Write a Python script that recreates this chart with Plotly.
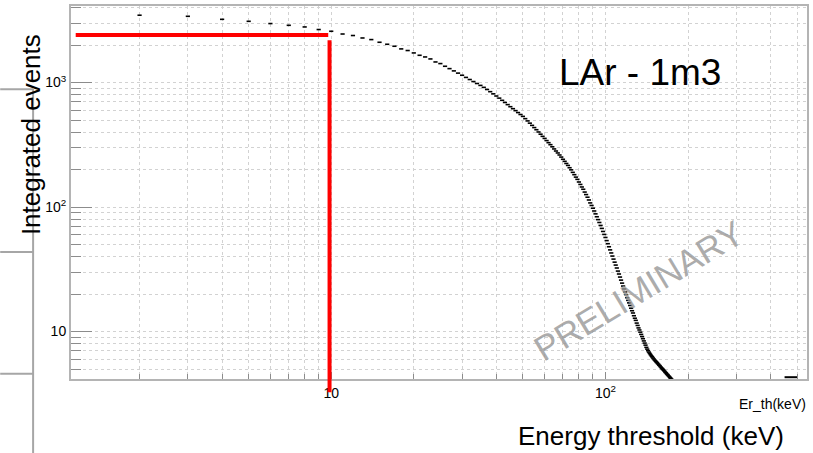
import math
import plotly.graph_objects as go

# ---------------- data ----------------
energy_keV = list(range(2, 176))
integrated_events = [
    3475, 3406, 3221, 3105, 2978, 2884, 2797, 2667, 2583, 2455,
    2387, 2281, 2214, 2107, 2031, 1958, 1864, 1809, 1730, 1656,
    1606, 1548, 1464, 1421, 1352, 1294, 1241, 1191, 1145, 1100,
    1058, 1019, 983, 949, 915, 880, 845, 812, 780, 750,
    720, 692, 665, 640, 617, 595, 574, 554, 535, 513,
    492, 472, 453, 435, 418, 401, 385, 370, 356, 342,
    329, 317, 305, 293, 282, 272, 262, 252, 242, 233,
    224, 216, 207, 199, 190, 182, 174, 167, 159, 152,
    145, 139, 132, 126, 120, 114, 108, 103, 97.9, 93.0,
    88.2, 83.6, 79.3, 75.2, 71.2, 67.4, 63.7, 60.3, 57.0, 53.8,
    50.8, 48.0, 45.3, 42.8, 40.4, 38.2, 36.1, 34.2, 32.4, 30.6,
    29.0, 27.4, 25.9, 24.5, 23.2, 22.0, 20.8, 19.8, 18.7, 17.8,
    17.0, 16.2, 15.4, 14.7, 14.1, 13.4, 12.8, 12.3, 11.7, 11.2,
    10.7, 10.3, 9.89, 9.49, 9.12, 8.76, 8.41, 8.08, 7.78, 7.47,
    7.23, 7.02, 6.84, 6.68, 6.53, 6.39, 6.27, 6.14, 6.03, 5.92,
    5.82, 5.73, 5.64, 5.55, 5.46, 5.37, 5.29, 5.20, 5.12, 5.04,
    4.97, 4.89, 4.82, 4.74, 4.67, 4.60, 4.53, 4.47, 4.40, 4.34,
    4.27, 4.21, 4.15, 4.09,
]
tail_bin_keV = [450, 500]
tail_bin_events = [4.3, 4.3]

# threshold marker (red lines)
threshold_keV = 9.86
threshold_events = 2410
red_h_start_keV = 1.17
red_h_end_keV = 9.75
red_v_top_events = 2188
red_v_bottom_events = 3.25

x_tickvals = [10, 100]
x_ticktext = ["10", "10<sup>2</sup>"]
y_tickvals = [10, 100, 1000]
y_ticktext = ["10", "10<sup>2</sup>", "10<sup>3</sup>"]
x_minor = [2, 3, 4, 5, 6, 7, 8, 9, 20, 30, 40, 50, 60, 70, 80, 90, 200, 300, 400, 500]
y_minor = [5, 6, 7, 8, 9, 20, 30, 40, 50, 60, 70, 80, 90,
           200, 300, 400, 500, 600, 700, 800, 900, 2000, 3000, 4000]

# ---------------- layout geometry ----------------
W, H = 813, 453
L, R, T, B = 71, 4, 6, 74
x_range = [0.051, 2.735]
y_range = [0.619, 3.615]
plot_w = W - L - R
plot_h = H - T - B

def px_x(px):
    return (px - L) / plot_w

def px_y(py):
    return (H - B - py) / plot_h

def ypaper_from_value(v):
    return (math.log10(v) - y_range[0]) / (y_range[1] - y_range[0])

FONT = "Liberation Sans, Arial, Helvetica, sans-serif"
GRID = "#d2d2d2"
TICKC = "#8c8c8c"
LINEC = "#b4b4b4"

fig = go.Figure()

fig.add_trace(go.Scatter(
    x=energy_keV, y=integrated_events, mode="markers",
    marker=dict(symbol="line-ew", size=3, color="black",
                line=dict(width=1.6, color="black")),
    showlegend=False, hoverinfo="x+y",
))
fig.add_trace(go.Scatter(
    x=tail_bin_keV, y=tail_bin_events, mode="lines",
    line=dict(color="black", width=2), showlegend=False,
))

shapes = []
# red threshold lines
shapes.append(dict(type="line", xref="x", yref="y",
                   x0=red_h_start_keV, x1=red_h_end_keV,
                   y0=threshold_events, y1=threshold_events,
                   line=dict(color="#ff0000", width=4), layer="above"))
shapes.append(dict(type="line", xref="x", yref="paper",
                   x0=threshold_keV, x1=threshold_keV,
                   y0=ypaper_from_value(red_v_bottom_events),
                   y1=ypaper_from_value(red_v_top_events),
                   line=dict(color="#ff0000", width=4), layer="above"))
# slide decoration lines on the left
deco = dict(color="#a6a6a6", width=2)
shapes.append(dict(type="line", xref="paper", yref="paper",
                   x0=px_x(33), x1=px_x(33), y0=px_y(89), y1=px_y(453), line=deco))
for yy in (89.3, 252, 373.7):
    shapes.append(dict(type="line", xref="paper", yref="paper",
                       x0=px_x(0), x1=px_x(33), y0=px_y(yy), y1=px_y(yy), line=deco))

annotations = [
    dict(text="Integrated events", xref="paper", yref="paper",
         x=px_x(31), y=px_y(135), textangle=-90, showarrow=False,
         font=dict(family=FONT, size=26, color="black"),
         xanchor="center", yanchor="middle"),
    dict(text="Energy threshold (keV)", xref="paper", yref="paper",
         x=px_x(653), y=px_y(436), showarrow=False,
         font=dict(family=FONT, size=26, color="black"),
         xanchor="center", yanchor="middle"),
    dict(text="Er_th(keV)", xref="paper", yref="paper",
         x=px_x(810), y=px_y(404), showarrow=False,
         font=dict(family=FONT, size=14, color="black"),
         xanchor="right", yanchor="middle"),
    dict(text="LAr - 1m3", xref="paper", yref="paper",
         x=px_x(641.5), y=px_y(72), showarrow=False,
         font=dict(family=FONT, size=37, color="black"),
         xanchor="center", yanchor="middle"),
    dict(text="PRELIMINARY", xref="paper", yref="paper",
         x=px_x(640), y=px_y(290), textangle=-31, showarrow=False,
         font=dict(family=FONT, size=35, color="rgba(150,150,150,0.8)"),
         xanchor="center", yanchor="middle"),
]

axis_common = dict(
    type="log", showgrid=True, gridcolor=GRID, griddash="dot", gridwidth=1,
    showline=True, linecolor=LINEC, linewidth=2, mirror=True,
    zeroline=False, ticks="inside", tickcolor=TICKC, tickwidth=1,
    tickmode="array", tickfont=dict(family=FONT, size=14, color="black"),
)

fig.update_layout(
    width=W, height=H,
    margin=dict(l=L, r=R, t=T, b=B, pad=0),
    paper_bgcolor="white", plot_bgcolor="white",
    xaxis=dict(**axis_common, range=x_range, tickvals=x_tickvals,
               ticktext=x_ticktext, ticklen=7,
               minor=dict(tickmode="array", tickvals=x_minor, ticks="inside",
                          ticklen=5, tickcolor=TICKC, showgrid=True,
                          gridcolor=GRID, griddash="dot", gridwidth=1)),
    yaxis=dict(**axis_common, range=y_range, tickvals=y_tickvals,
               ticktext=y_ticktext, ticklen=21,
               minor=dict(tickmode="array", tickvals=y_minor, ticks="inside",
                          ticklen=10, tickcolor=TICKC, showgrid=True,
                          gridcolor=GRID, griddash="dot", gridwidth=1)),
    shapes=shapes,
    annotations=annotations,
    showlegend=False,
)

fig.write_html("out.html")
